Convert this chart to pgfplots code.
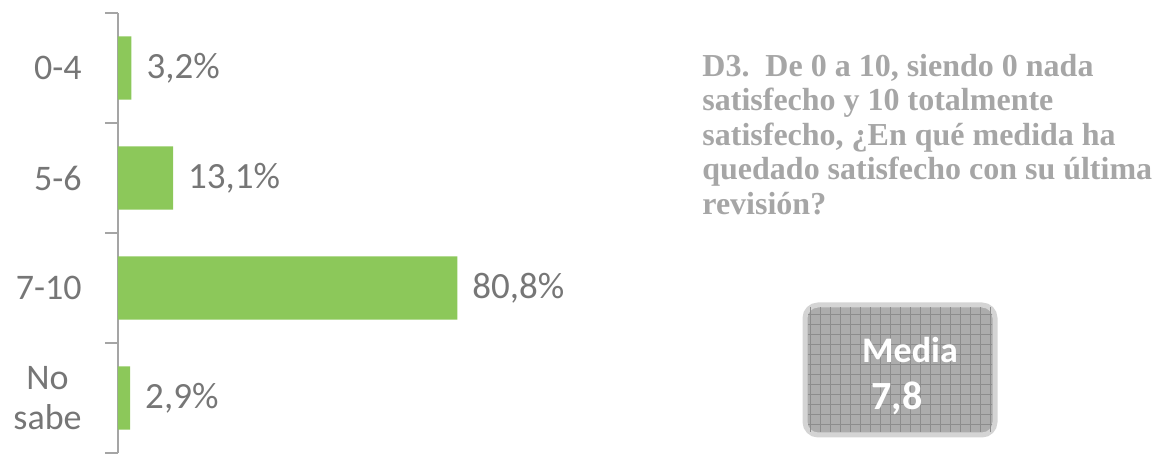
\documentclass[border=0pt]{standalone}
\usepackage{pgfplots}
\pgfplotsset{compat=1.18}
\usepackage{fontspec}
\setmainfont{Carlito}
\newfontfamily\qfont{Liberation Serif}
\usetikzlibrary{patterns.meta}
\definecolor{bargreen}{RGB}{140,200,90}
\definecolor{txtgray}{RGB}{118,118,118}
\definecolor{axgray}{RGB}{165,165,165}
\definecolor{qgray}{RGB}{166,166,166}
\definecolor{boxfill}{RGB}{172,172,172}
\definecolor{boxline}{RGB}{140,140,140}
\definecolor{boxedge}{RGB}{212,212,212}

\begin{document}
\begin{tikzpicture}
% axis box: left edge at px 118, bottom at px 453 (1px = 0.5pt)
\begin{axis}[
  at={(0,0)}, anchor=south west,
  scale only axis, width=210pt, height=220pt,
  xbar, bar width=0.573,
  xmin=0, xmax=100,
  ymin=-0.5, ymax=3.5, y dir=reverse,
  axis x line=none, axis y line*=left,
  y axis line style={axgray, line width=1pt},
  ytick={-0.5,0.5,1.5,2.5,3.5}, yticklabels={},
  tick align=outside, major tick length=6.5pt,
  ytick style={axgray, line width=1pt},
  extra y ticks={0,1,2,3},
  extra y tick labels={0-4,5-6,7-10,{No\\sabe}},
  extra y tick style={major tick length=0pt},
  yticklabel style={font=\fontsize{18}{20}\selectfont, text=txtgray,
    align=center, inner sep=0pt, xshift=-18pt},
  nodes near coords={\pgfmathprintnumber[fixed,precision=1,fixed zerofill,use comma,assume math mode=true]{\pgfplotspointmeta}\%},
  nodes near coords style={font=\fontsize{18.5}{20}\selectfont, text=txtgray, anchor=west, xshift=4pt},
  clip=false,
]
\addplot[fill=bargreen, draw=none, point meta=x] coordinates {
  (3.2,0) (13.1,1) (80.8,2) (2.9,3)};
\end{axis}

\begin{scope}[shift={(-59pt,226.5pt)}, x=0.5pt, y=-0.5pt]
\useasboundingbox (0,0) rectangle (1164,452);
\node[anchor=north west, align=left, text=qgray,
  font=\qfont\bfseries\fontsize{16}{17.2}\selectfont, inner sep=0pt]
  at (702,54) {D3.\ \ De 0 a 10, siendo 0 nada\\satisfecho y 10 totalmente\\satisfecho, ¿En qué medida ha\\quedado satisfecho con su última\\revisión?};

\path[draw=boxedge, line width=2.5pt, fill=boxfill, rounded corners=6.5pt]
  (805,305) rectangle (995,435);
\path[pattern={Lines[angle=0,distance=5pt,line width=0.35pt]}, pattern color=boxline]
  (808,308) rectangle (992,432);
\path[pattern={Lines[angle=90,distance=5pt,line width=0.35pt]}, pattern color=boxline]
  (808,308) rectangle (992,432);
\node[text=white, font=\bfseries\fontsize{18}{20}\selectfont] at (910,350) {Media};
\node[text=white, font=\bfseries\fontsize{20}{22}\selectfont] at (897,398) {7,8};
\end{scope}
\end{tikzpicture}
\end{document}
